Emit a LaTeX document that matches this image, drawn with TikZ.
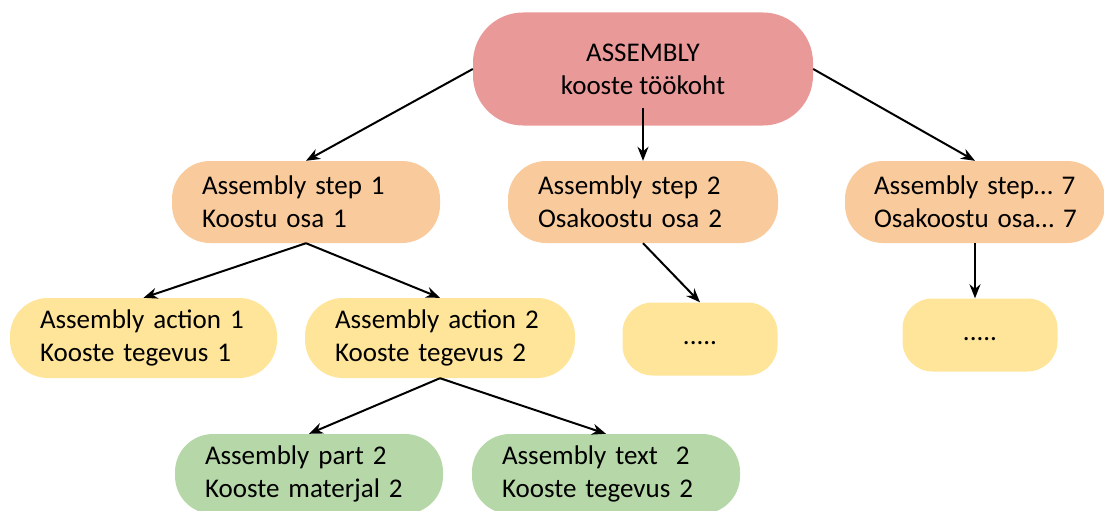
\documentclass[tikz,border=0pt]{standalone}
\usepackage{fontspec}
\setmainfont{Carlito}
\usetikzlibrary{arrows.meta}
\definecolor{cRoot}{HTML}{EA9999}
\definecolor{cStep}{HTML}{F9CB9C}
\definecolor{cAct}{HTML}{FFE599}
\definecolor{cPart}{HTML}{B6D7A8}
\begin{document}
\begin{tikzpicture}[x=1pt,y=-1pt,
  base/.style={draw=none, inner ysep=0pt, font=\fontsize{27}{33}\selectfont},
  rootbox/.style={base, fill=cRoot, minimum width=340pt, minimum height=113pt, rounded corners=50pt, align=center},
  leftbox/.style 2 args={base, fill=#1, text width=#2, inner xsep=30pt, align=left, minimum height=82pt, rounded corners=38pt},
  dotbox/.style={base, fill=cAct, minimum width=155pt, minimum height=73pt, rounded corners=30pt, align=center},
  conn/.style={draw=black, line width=2pt, -{Stealth[length=14pt,width=11pt]}}
]
\useasboundingbox (0,0) rectangle (1104,511);

\node[rootbox] (root) at (643,69) {ASSEMBLY\\kooste töökoht};

\node[leftbox={cStep}{208pt}] (s1) at (306,202) {Assembly step 1\\Koostu osa 1};
\node[leftbox={cStep}{210pt}] (s2) at (643,202) {Assembly step 2\\Osakoostu osa 2};
\node[leftbox={cStep}{202pt}, inner xsep=29pt] (s7) at (975,202) {\mbox{Assembly step… 7}\\\mbox{Osakoostu osa… 7}};

\node[leftbox={cAct}{207pt}, minimum height=80pt] (a1) at (143.5,338) {Assembly action 1\\Kooste tegevus 1};
\node[leftbox={cAct}{210pt}, minimum height=80pt] (a2) at (440,338) {Assembly action 2\\Kooste tegevus 2};
\node[dotbox] (d1) at (700,339) {\raisebox{-12pt}{.....}};
\node[dotbox] (d2) at (980,335) {\raisebox{-12pt}{.....}};

\node[leftbox={cPart}{208pt}, minimum height=80pt] (p2) at (309,474) {Assembly part 2\\Kooste materjal 2};
\node[leftbox={cPart}{208pt}, minimum height=80pt] (t2) at (606,474) {Assembly text\ \ 2\\Kooste tegevus 2};

\draw[conn] (root.west) -- (s1.north);
\draw[conn] ([yshift=18pt]root.south) -- (s2.north);
\draw[conn] (root.east) -- (s7.north);
\draw[conn] (s1.south) -- (a1.north);
\draw[conn] (s1.south) -- (a2.north);
\draw[conn] (s2.south) -- (d1.north);
\draw[conn] (s7.south) -- (s7.south |- d2.north);
\draw[conn] (a2.south) -- (p2.north);
\draw[conn] (a2.south) -- (t2.north);
\end{tikzpicture}
\end{document}
